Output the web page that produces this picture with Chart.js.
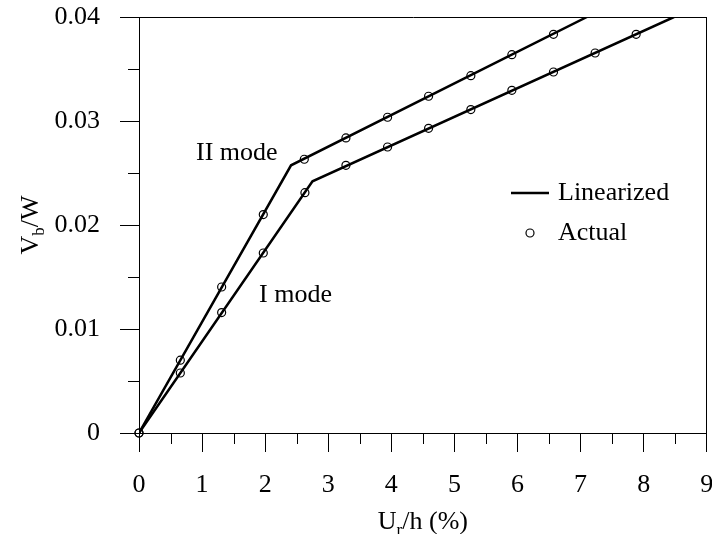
<!DOCTYPE html>
<html><head><meta charset="utf-8">
<script src="https://cdn.jsdelivr.net/npm/chart.js@4.4.1/dist/chart.umd.min.js"></script>
<style>html,body{margin:0;padding:0;background:#fff;}</style>
</head><body>
<canvas id="c" width="712" height="534" style="display:block;width:712px;height:534px"></canvas>
<script>
// ---- data ----
const xTickLabels = ['0','1','2','3','4','5','6','7','8','9'];
const yTickLabels = ['0','0.01','0.02','0.03','0.04'];

const mode2LinX = [0, 2.41, 7.10];
const mode2LinY = [0, 0.02574, 0.04];
const mode1LinX = [0, 2.75, 8.48];
const mode1LinY = [0, 0.0242, 0.04];

const mode2ActX = [0, 0.655, 1.31, 1.97, 2.62, 3.28, 3.94, 4.59, 5.26, 5.91, 6.57];
const mode2ActY = [0, 0.0070, 0.01404, 0.0210, 0.02632, 0.02837, 0.03036, 0.03238, 0.03436, 0.03638, 0.03833];
const mode1ActX = [0, 0.655, 1.31, 1.97, 2.63, 3.28, 3.94, 4.59, 5.26, 5.91, 6.57, 7.23, 7.88];
const mode1ActY = [0, 0.00577, 0.01158, 0.01731, 0.02311, 0.02574, 0.0275, 0.0293, 0.0311, 0.03295, 0.03471, 0.03654, 0.03833];

const seriesNames = ['Linearized', 'Actual'];
const modeLabels = ['II mode', 'I mode'];

const pts = (xs, ys) => xs.map((x, i) => ({x: x, y: ys[i]}));
const FONT = 'Liberation Serif, Times New Roman, serif';

const lineStyle = {borderColor:'#000', borderWidth:2.5, pointRadius:0, showLine:true, fill:false, tension:0, order:2};
const ptStyle = {borderColor:'#000', backgroundColor:'rgba(0,0,0,0)', pointRadius:4, pointBorderWidth:1.2, showLine:false, order:1, pointHoverRadius:4, clip:false};

const extras = {
  id: 'extras',
  afterDraw(chart) {
    const ctx = chart.ctx, a = chart.chartArea;
    const xs = chart.scales.x, ys = chart.scales.y;
    ctx.save();
    ctx.strokeStyle = '#000';
    ctx.lineWidth = 1;
    // top and right frame
    ctx.beginPath();
    ctx.moveTo(120, Math.round(a.top) + 0.5); ctx.lineTo(a.right, Math.round(a.top) + 0.5);
    ctx.moveTo(Math.round(a.right) - 0.5, a.top); ctx.lineTo(Math.round(a.right) - 0.5, a.bottom + 19);
    ctx.stroke();
    // minor ticks
    ctx.beginPath();
    for (let v = 0.5; v < 9; v += 1) {
      const px = Math.round(xs.getPixelForValue(v)) + 0.5;
      ctx.moveTo(px, a.bottom); ctx.lineTo(px, a.bottom + 11);
    }
    for (let v = 0.005; v < 0.04; v += 0.01) {
      const py = Math.round(ys.getPixelForValue(v)) + 0.5;
      ctx.moveTo(a.left, py); ctx.lineTo(a.left - 11, py);
    }
    ctx.stroke();

    ctx.fillStyle = '#000';
    // x title with subscript
    const big = '26px ' + FONT, small = '17px ' + FONT;
    ctx.textBaseline = 'alphabetic';
    ctx.font = big; const wU = ctx.measureText('U').width; const wRest = ctx.measureText('/h (%)').width;
    ctx.font = small; const wr = ctx.measureText('r').width;
    let x0 = (a.left + a.right) / 2 - (wU + wr + wRest) / 2;
    const yb = 529;
    ctx.textAlign = 'left';
    ctx.font = big; ctx.fillText('U', x0, yb);
    ctx.font = small; ctx.fillText('r', x0 + wU, yb + 6);
    ctx.font = big; ctx.fillText('/h (%)', x0 + wU + wr, yb);

    // y title rotated with subscript
    ctx.save();
    ctx.translate(38, (a.top + a.bottom) / 2);
    ctx.rotate(-Math.PI / 2);
    ctx.font = big; const wV = ctx.measureText('V').width; const wW = ctx.measureText('/W').width;
    ctx.font = small; const wb = ctx.measureText('b').width;
    let y0 = -(wV + wb + wW) / 2;
    ctx.font = big; ctx.fillText('V', y0, 0);
    ctx.font = small; ctx.fillText('b', y0 + wV, 6);
    ctx.font = big; ctx.fillText('/W', y0 + wV + wb, 0);
    ctx.restore();

    // mode annotations
    ctx.font = big; ctx.textBaseline = 'middle'; ctx.textAlign = 'left';
    ctx.fillText(modeLabels[0], 196, 153);
    ctx.fillText(modeLabels[1], 259, 295);

    // legend
    ctx.lineWidth = 2.5;
    ctx.beginPath(); ctx.moveTo(511, 193); ctx.lineTo(549, 193); ctx.stroke();
    ctx.fillText(seriesNames[0], 558, 193);
    ctx.lineWidth = 1.2;
    ctx.beginPath(); ctx.arc(530, 233, 4, 0, Math.PI * 2); ctx.stroke();
    ctx.fillText(seriesNames[1], 558, 233);
    ctx.restore();
  }
};

new Chart(document.getElementById('c'), {
  type: 'scatter',
  data: {
    datasets: [
      Object.assign({label: seriesNames[0] + ' ' + modeLabels[0], data: pts(mode2LinX, mode2LinY)}, lineStyle),
      Object.assign({label: seriesNames[0] + ' ' + modeLabels[1], data: pts(mode1LinX, mode1LinY)}, lineStyle),
      Object.assign({label: seriesNames[1] + ' ' + modeLabels[0], data: pts(mode2ActX, mode2ActY)}, ptStyle),
      Object.assign({label: seriesNames[1] + ' ' + modeLabels[1], data: pts(mode1ActX, mode1ActY)}, ptStyle)
    ]
  },
  options: {
    responsive: false,
    animation: false,
    devicePixelRatio: 1,
    layout: {padding: {left: 0, top: 17, right: 4, bottom: 0}},
    plugins: {legend: {display: false}, tooltip: {enabled: false}},
    scales: {
      x: {
        type: 'linear', min: 0, max: 9,
        ticks: {stepSize: 1, color: '#000', font: {family: FONT, size: 26}, padding: 18,
                callback: (v) => xTickLabels[Math.round(v)] ?? ''},
        grid: {display: true, drawOnChartArea: false, drawTicks: true, tickLength: 19, color: '#000', tickColor: '#000'},
        border: {display: true, color: '#000', width: 1},
        afterFit: (s) => { s.height = 101; s.paddingLeft = 0; s.paddingRight = 0; }
      },
      y: {
        type: 'linear', min: 0, max: 0.04,
        ticks: {stepSize: 0.01, color: '#000', font: {family: FONT, size: 26}, padding: 20,
                callback: (v) => yTickLabels[Math.round(v * 100)] ?? ''},
        grid: {display: true, drawOnChartArea: false, drawTicks: true, tickLength: 19, color: '#000', tickColor: '#000'},
        border: {display: true, color: '#000', width: 1},
        afterFit: (s) => { s.width = 139; s.paddingTop = 0; s.paddingBottom = 0; }
      }
    }
  },
  plugins: [extras]
});
</script>
</body></html>
